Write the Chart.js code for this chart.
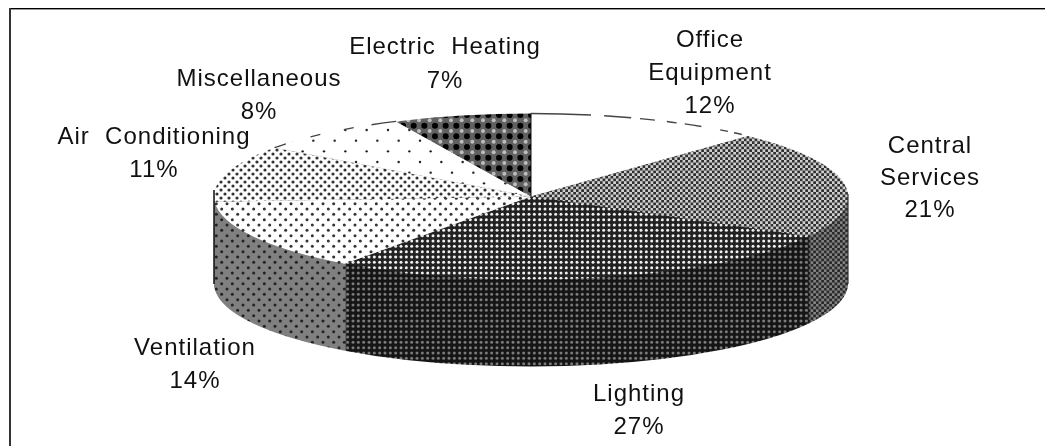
<!DOCTYPE html>
<html><head><meta charset="utf-8">
<style>html,body{margin:0;padding:0;background:#fff}canvas{display:block}</style>
<script src="https://cdn.jsdelivr.net/npm/chart.js@4"></script></head>
<body><canvas id="c" width="1045" height="446"></canvas>
<script>
const categories = ['Office Equipment','Central Services','Lighting','Ventilation','Air Conditioning','Miscellaneous','Electric Heating'];
const shares = [12,21,27,14,11,8,7];
const labelLines = [['Office','Equipment'],['Central','Services'],['Lighting'],['Ventilation'],['Air  Conditioning'],['Miscellaneous'],['Electric  Heating']];

const labelBox = [[710,40,33],[930,146,32],[639,394,33],[195,348,33],[154,137,33],[259,79,33],[445,47,34]];
const pie = {cx:531, cy:196.5, rx:317, ry:83, depth:87};
const T = 64;
function dots(g,px,py,stag,r,col,ox=0,oy=0){
  g.fillStyle=col;
  const nx=Math.round(T/px), ny=Math.round(T/py);
  for(let j=-1;j<=ny;j++)for(let i=-1;i<=nx;i++){
    const x=ox+(i+((stag&&((j%2)+2)%2)?0.5:0))*px, y=oy+j*py;
    g.beginPath();g.arc(x,y,r,0,7);g.fill();
  }
}
function tile(bg,paint){
  const c=document.createElement('canvas');c.width=c.height=T;
  const g=c.getContext('2d');g.fillStyle=bg;g.fillRect(0,0,T,T);paint(g);
  return g.createPattern(c,'repeat');
}
function checker(g,cell,a,b){
  const n=Math.round(T/cell);
  for(let j=0;j<n;j++)for(let i=0;i<n;i++){g.fillStyle=(i+j)%2?a:b;g.fillRect(i*cell,j*cell,cell,cell);}
}
const P=16/3;
const top_ = [
  tile('#fff',g=>{}),
  tile('#888',g=>checker(g,8/3,'#303030','#d0d0d0')),
  tile('#222',g=>dots(g,P,P,false,1.5,'#f0f0f0',1,1)),
  tile('#fff',g=>dots(g,2*P,P,true,1.5,'#333',3,1)),
  tile('#fff',g=>dots(g,8,4,true,1.6,'#333',1,2)),
  tile('#fff',g=>dots(g,4*P,2*P,true,1.2,'#222',4,2)),
  tile('#606060',g=>{dots(g,2*P,2*P,false,2,'#bdbdbd',3,3);dots(g,2*P,2*P,false,3,'#000',3+P,3+P);})
];
const side_ = [
  tile('#888',g=>{}),
  tile('#555',g=>checker(g,8/3,'#2a2a2a','#808080')),
  tile('#151515',g=>dots(g,P,P,false,1.5,'#7a7a7a',1,1)),
  tile('#808080',g=>dots(g,2*P,P,true,1.5,'#222',3,1)),
  tile('#808080',g=>{}),tile('#808080',g=>{}),tile('#808080',g=>{})
];
const pieSolid = {
  id:'pieSolid',
  beforeDatasetDraw(chart,args){
    const ctx=chart.ctx, arcs=chart.getDatasetMeta(args.index).data;
    const a0=arcs[0], R=a0.outerRadius;
    ctx.save();
    for(let d=pie.depth;d>=1;d--){
      arcs.forEach((arc,i)=>{
        ctx.save();
        ctx.translate(pie.cx,pie.cy+d);ctx.scale(pie.rx/R,pie.ry/R);ctx.translate(-arc.x,-arc.y);
        side_[i].setTransform(ctx.getTransform().inverse());
        const o=arc.options;
        arc.options=Object.create(o,{backgroundColor:{value:side_[i]}});
        arc.draw(ctx);
        arc.options=o;
        ctx.restore();
      });
    }
    ctx.translate(pie.cx,pie.cy);ctx.scale(pie.rx/R,pie.ry/R);ctx.translate(-a0.x,-a0.y);
    const inv=ctx.getTransform().inverse();
    top_.forEach(p=>p.setTransform(inv));
  },
  afterDatasetDraw(chart,args){
    const ctx=chart.ctx, arcs=chart.getDatasetMeta(args.index).data;
    ctx.restore();
    const rim=(arc,dash,off)=>{
      ctx.save();ctx.strokeStyle='#444';ctx.lineWidth=1.3;ctx.setLineDash(dash);ctx.lineDashOffset=off||0;
      ctx.beginPath();ctx.ellipse(pie.cx,pie.cy,pie.rx,pie.ry,0,arc.startAngle,arc.endAngle);ctx.stroke();ctx.restore();
    };
    rim(arcs[0],[60,13,27,9,15,12,10,8,17,19,8,6,8,40]);
    rim(arcs[5],[12,26,10,24,10,18,25,16,14,30]);
    // vertical edges of the solid
    ctx.save();ctx.strokeStyle='#111';ctx.lineWidth=1.5;
    const edge=(ang,y0,y1)=>{const x=pie.cx+pie.rx*Math.cos(ang);ctx.beginPath();ctx.moveTo(x,y0);ctx.lineTo(x,y1);ctx.stroke();};
    edge(Math.PI,190,284);
    ctx.strokeStyle='#333';ctx.lineWidth=1.2;
    edge(0,194,284);
    ctx.strokeStyle='#111';ctx.lineWidth=1;
    const e=arcs[1].endAngle;const yy=pie.cy+pie.ry*Math.sin(e);
    edge(e,yy,yy+pie.depth);
    ctx.beginPath();ctx.moveTo(pie.cx,pie.cy-pie.ry);ctx.lineTo(pie.cx,pie.cy);ctx.stroke();
    ctx.restore();
    // frame
    ctx.fillStyle='#000';ctx.fillRect(9,8,1036,1);ctx.fillStyle='#999';ctx.fillRect(10,9,1035,1);
    ctx.fillStyle='#333';ctx.fillRect(9,8,2,438);
  },
  afterDraw(chart){
    const ctx=chart.ctx;
    ctx.save();ctx.fillStyle='#111';ctx.font='24px "Liberation Sans"';ctx.textAlign='center';ctx.textBaseline='middle';
    ctx.letterSpacing='1px';
    categories.forEach((_,i)=>{
      const [x,y,lh]=labelBox[i];
      const lines=[...labelLines[i],shares[i]+'%'];
      lines.forEach((t,k)=>ctx.fillText(t,x,y+k*lh));
    });
    ctx.restore();
  }
};
new Chart(document.getElementById('c'),{
  type:'pie',
  data:{labels:categories,datasets:[{data:shares,backgroundColor:top_,borderWidth:0,clip:false}]},
  options:{responsive:false,animation:false,plugins:{legend:{display:false},tooltip:{enabled:false}}},
  plugins:[pieSolid]
});
</script></body></html>
